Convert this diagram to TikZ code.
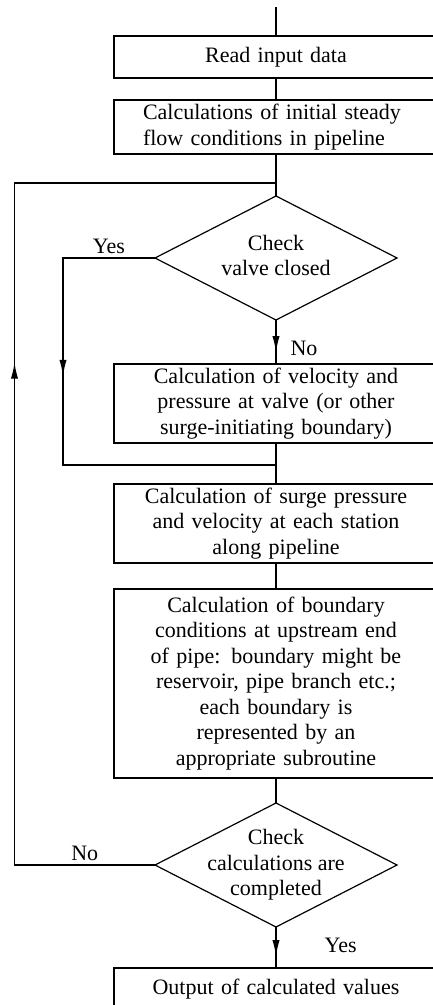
\documentclass[tikz,border=0pt]{standalone}
\usepackage{fontspec}
\setmainfont{Liberation Serif}
\usepackage{tikz}
\tikzset{
box/.style={draw, outer sep=0pt, minimum width=162pt, text width=150pt, inner xsep=6pt, inner ysep=1pt, align=center},
leftbox/.style={box, text width=133pt, inner xsep=14.5pt, align=left},
decision/.style={draw, diamond, outer sep=0pt, inner sep=0pt, minimum width=121pt, minimum height=62pt},
tag/.style={inner sep=2pt},
midarrow/.style={postaction={decorate}, decoration={markings, mark=at position #1 with {\arrow{Latex[length=8pt, width=3.6pt]}}}}
}
\usetikzlibrary{arrows.meta, decorations.markings, positioning, shapes.geometric}
% text of a decision node, kept out of the diamond's size
\newcommand{\inside}[1]{\smash{\makebox[0pt]{\raisebox{-2.7pt}{\begin{tabular}{@{}c@{}}#1\end{tabular}}}}}

\begin{document}
\begin{tikzpicture}[node distance=2em, line width=0.6pt, font=\fontsize{11}{12.75}\selectfont]
	\useasboundingbox (0,0) rectangle (216.5pt,-502.5pt);
	\clip (0,0) rectangle (216.5pt,-502.5pt);
	% ----
	\node[box, minimum height=21pt] (read) at (138pt,-28.5pt) {Read input data};
	\node[leftbox, minimum height=27pt, below=11pt of read] (init) {Calculations of initial steady\\flow conditions in pipeline};
	\node[decision, below=21pt of init] (valve) {\inside{Check\\valve closed}};
	\node[box, minimum height=39.5pt, below=22pt of valve] (velo) {Calculation of velocity and\\pressure at valve (or other\\surge-initiating boundary)};
	\node[box, minimum height=39.5pt, below=20.5pt of velo] (surge) {Calculation of surge pressure\\and velocity at each station\\along pipeline};
	\node[box, minimum height=94.5pt, below=13pt of surge] (bound) {Calculation of boundary\\conditions at upstream end\\of pipe: boundary might be\\reservoir, pipe branch etc.;\\each boundary is\\represented by an\\appropriate subroutine};
	\node[decision, below=12.5pt of bound] (done) {\inside{Check\\calculations are\\completed}};
	\node[box, minimum height=21pt, below=20.5pt of done] (out) {Output of calculated values};
	% ----
	\coordinate[above=14.5pt of read] (start);
	\coordinate[above=6.5pt of valve] (loop);
	\coordinate[below=11pt of velo] (join);
	% ----
	\draw (start) -- (read);
	\draw (read) -- (init);
	\draw (init) -- (valve);
	\draw[midarrow=0.73] (valve) -- node[tag, right=5pt, pos=0.64] {No} (velo);
	\draw[midarrow=0.41] (valve.west) -- node[tag, above] {Yes} ++(-46pt,0) |- (join);
	\draw (velo) -- (surge);
	\draw (surge) -- (bound);
	\draw (bound) -- (done);
	\draw[midarrow=0.71] (done) -- node[tag, right=22pt, pos=0.45] {Yes} (out);
	\draw[midarrow=0.593] (done.west) -- node[tag, above] {No} ++(-70.25pt,0) |- (loop);
\end{tikzpicture}
\end{document}
